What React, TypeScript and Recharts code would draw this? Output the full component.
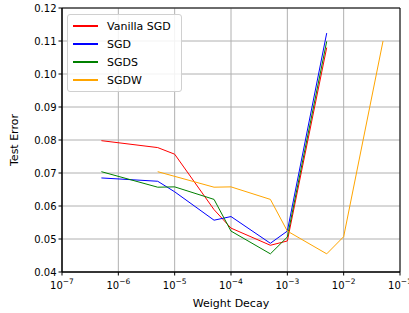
import { LineChart, Line, XAxis, YAxis, CartesianGrid, ReferenceArea, Label } from 'recharts';

const decayA = [5e-7, 5e-6, 1e-5, 5e-5, 1e-4, 5e-4, 1e-3, 5e-3];
const decayW = [5e-6, 5e-5, 1e-4, 5e-4, 1e-3, 5e-3, 1e-2, 5e-2];

const vanillaSgd = [0.0798, 0.0777, 0.0757, 0.0589, 0.0533, 0.0481, 0.0494, 0.1080];
const sgd = [0.0685, 0.0675, 0.0643, 0.0557, 0.0568, 0.0487, 0.0524, 0.1124];
const sgds = [0.0704, 0.0657, 0.0658, 0.0620, 0.0524, 0.0455, 0.0506, 0.1099];
const sgdw = [0.0704, 0.0657, 0.0658, 0.0620, 0.0524, 0.0455, 0.0507, 0.1100];

const majorTicks = [1e-7, 1e-6, 1e-5, 1e-4, 1e-3, 1e-2, 1e-1];
const yTicks = [0.04, 0.05, 0.06, 0.07, 0.08, 0.09, 0.1, 0.11, 0.12];
const minorTicks: number[] = [];
for (let e = -7; e < -1; e++) {
  for (let m = 2; m <= 9; m++) minorTicks.push(m * Math.pow(10, e));
}

const series = [
  { name: 'Vanilla SGD', xs: decayA, ys: vanillaSgd, color: '#ff0000' },
  { name: 'SGD', xs: decayA, ys: sgd, color: '#0000ff' },
  { name: 'SGDS', xs: decayA, ys: sgds, color: '#008000' },
  { name: 'SGDW', xs: decayW, ys: sgdw, color: '#ffa500' },
];

const font = 'DejaVu Sans, sans-serif';

function XTick(props: any) {
  const { x, y, payload } = props;
  const exp = Math.round(Math.log10(payload.value));
  return (
    <text x={x} y={y + 11} textAnchor="middle" fontSize={10} fontFamily={font} fill="#000">
      <tspan>10</tspan>
      <tspan dy={-5} fontSize={7.5}>{'\u2212' + Math.abs(exp)}</tspan>
    </text>
  );
}

function YTick(props: any) {
  const { x, y, payload } = props;
  return (
    <text x={x} y={y + 3.5} textAnchor="end" fontSize={10} fontFamily={font} fill="#000">
      {payload.value.toFixed(2)}
    </text>
  );
}

function LegendBox() {
  return (
    <div style={{ position: 'absolute', left: 67, top: 14, border: '1px solid #d0d0d0', borderRadius: 3, background: 'rgba(255,255,255,0.85)', padding: '2px 6px 2px 5px', fontFamily: font, fontSize: 11, width: 102 }}>
      {series.map((s) => (
        <div key={s.name} style={{ display: 'flex', alignItems: 'center', height: 18 }}>
          <div style={{ width: 25, height: 1.5, background: s.color, marginRight: 9 }} />
          <span>{s.name}</span>
        </div>
      ))}
    </div>
  );
}

export default function App() {
  return (
    <div style={{ position: 'absolute', left: 0, top: 0, width: 409, height: 313, background: '#fff' }}>
      <LineChart width={409} height={313} margin={{ top: 8, right: 9, left: 0, bottom: 0 }}>
        <CartesianGrid stroke="#b0b0b0" strokeWidth={1} />
        <XAxis
          xAxisId="minor"
          type="number"
          dataKey="x"
          scale="log"
          domain={[1e-7, 1e-1]}
          ticks={minorTicks}
          interval={0}
          tick={() => <g />}
          tickSize={2}
          tickLine={{ stroke: '#000' }}
          axisLine={false}
          height={0}
          allowDataOverflow
        />
        <XAxis
          type="number"
          dataKey="x"
          scale="log"
          domain={[1e-7, 1e-1]}
          ticks={majorTicks}
          interval={0}
          tick={<XTick />}
          tickSize={3.5}
          tickLine={{ stroke: '#000' }}
          axisLine={{ stroke: '#000' }}
          height={41}
          allowDataOverflow
        >
          <Label value="Weight Decay" position="insideBottom" offset={6} fontSize={11} fontFamily={font} fill="#000" />
        </XAxis>
        <YAxis
          type="number"
          domain={[0.04, 0.12]}
          ticks={yTicks}
          interval={0}
          tick={<YTick />}
          tickSize={3.5}
          tickLine={{ stroke: '#000' }}
          axisLine={{ stroke: '#000' }}
          width={62}
          allowDataOverflow
        >
          <Label value="Test Error" angle={-90} position="insideLeft" offset={14} fontSize={11} fontFamily={font} fill="#000" style={{ textAnchor: 'middle' }} />
        </YAxis>
        <ReferenceArea x1={1e-7} x2={1e-1} y1={0.04} y2={0.12} fill="none" stroke="#000" strokeWidth={1} ifOverflow="visible" />
        {series.map((s) => (
          <Line
            key={s.name}
            name={s.name}
            data={s.xs.map((x, i) => ({ x, y: s.ys[i] }))}
            dataKey="y"
            stroke={s.color}
            strokeWidth={1}
            dot={false}
            isAnimationActive={false}
          />
        ))}
      </LineChart>
      <LegendBox />
    </div>
  );
}
